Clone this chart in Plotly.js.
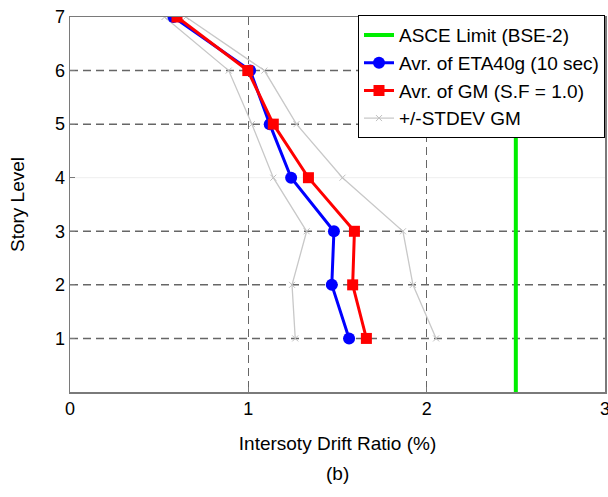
<!DOCTYPE html>
<html>
<head>
<meta charset="utf-8">
<script src="https://cdn.plot.ly/plotly-3.0.1.min.js"></script>
<style>html,body{margin:0;padding:0;background:#fff;}#chart{width:608px;height:497px;}</style>
</head>
<body>
<div id="chart"></div>
<script>
// ---- data ----
var storyLevels = [1, 2, 3, 4, 5, 6, 7];
var etaAvg = [1.565, 1.468, 1.48, 1.24, 1.12, 1.01, 0.58];
var gmAvg = [1.662, 1.585, 1.595, 1.337, 1.14, 0.997, 0.60];
var gmMinusStd = [1.263, 1.245, 1.327, 1.14, 1.02, 0.89, 0.53];
var gmPlusStd = [2.053, 1.923, 1.867, 1.528, 1.27, 1.09, 0.65];
var asceX = [2.5, 2.5];
var asceY = [0, 7];
var xTicks = [0, 1, 2, 3];
var yTicks = [1, 2, 3, 4, 5, 6, 7];
var yDashedGrid = [1, 2, 3, 5, 6];
var yFaintGrid = [4];
var names = ['ASCE Limit (BSE-2)', 'Avr. of ETA40g (10 sec)', 'Avr. of GM (S.F = 1.0)', '+/-STDEV GM'];

var FONT = 'Liberation Sans, Arial, sans-serif';
var stdStyle = {color: '#c8c8c8', width: 1.3};
var traces = [
  {x: gmMinusStd, y: storyLevels, mode: 'lines+markers', name: names[3], legendrank: 4,
   line: stdStyle, marker: {symbol: 'x-thin', size: 6, line: {color: '#c0c0c0', width: 1}}},
  {x: gmPlusStd, y: storyLevels, mode: 'lines+markers', name: names[3], showlegend: false,
   line: stdStyle, marker: {symbol: 'x-thin', size: 6, line: {color: '#c0c0c0', width: 1}}},
  {x: asceX, y: asceY, mode: 'lines', name: names[0], legendrank: 1,
   line: {color: '#00ee00', width: 4}},
  {x: etaAvg, y: storyLevels, mode: 'lines+markers', name: names[1], legendrank: 2,
   line: {color: '#0000ff', width: 3}, marker: {symbol: 'circle', size: 12, color: '#0000ff'}},
  {x: gmAvg, y: storyLevels, mode: 'lines+markers', name: names[2], legendrank: 3,
   line: {color: '#ff0000', width: 3}, marker: {symbol: 'square', size: 11, color: '#ff0000'}}
];

var shapes = [];
yDashedGrid.forEach(function (v) {
  shapes.push({type: 'line', xref: 'paper', x0: 0, x1: 1, yref: 'y', y0: v, y1: v, layer: 'below',
    line: {color: '#666666', width: 1.5, dash: '8px,5px'}});
});
yFaintGrid.forEach(function (v) {
  shapes.push({type: 'line', xref: 'paper', x0: 0, x1: 1, yref: 'y', y0: v, y1: v, layer: 'below',
    line: {color: '#eeeeee', width: 1}});
});

var layout = {
  width: 608, height: 497,
  margin: {l: 70, r: 3, t: 17, b: 105, pad: 0},
  paper_bgcolor: '#ffffff', plot_bgcolor: '#ffffff',
  font: {family: FONT, color: '#000', size: 18},
  showlegend: true,
  xaxis: {
    range: [0, 3], tickvals: xTicks, ticktext: xTicks.map(String),
    showgrid: true, gridcolor: '#666666', gridwidth: 1.5, griddash: '8px,5px',
    zeroline: false, showline: true, linecolor: '#7a7a7a', linewidth: 1.5, mirror: true,
    ticks: 'inside', ticklen: 5, tickcolor: '#7a7a7a', tickfont: {size: 18},
    ticklabeloverflow: 'allow', automargin: false,
    title: {text: 'Intersoty Drift Ratio (%)', font: {size: 19}, standoff: 18}
  },
  yaxis: {
    range: [0, 7], tickvals: yTicks, ticktext: yTicks.map(String),
    showgrid: false, zeroline: false, showline: true, linecolor: '#7a7a7a', linewidth: 1.5, mirror: true,
    ticks: 'inside', ticklen: 5, tickcolor: '#7a7a7a', tickfont: {size: 18},
    automargin: false,
    title: {text: 'Story Level', font: {size: 19}, standoff: 25}
  },
  legend: {
    x: 1, xanchor: 'right', y: 1.005, yanchor: 'top',
    bgcolor: '#ffffff', bordercolor: '#000000', borderwidth: 1,
    font: {size: 19, family: FONT}, traceorder: 'normal', itemwidth: 30
  },
  shapes: shapes,
  annotations: [{
    text: '(b)', xref: 'paper', yref: 'paper', x: 0.5, y: -0.216,
    xanchor: 'center', yanchor: 'middle', showarrow: false, font: {size: 19}
  }]
};

Plotly.newPlot('chart', traces, layout, {displayModeBar: false, staticPlot: true});
</script>
</body>
</html>
